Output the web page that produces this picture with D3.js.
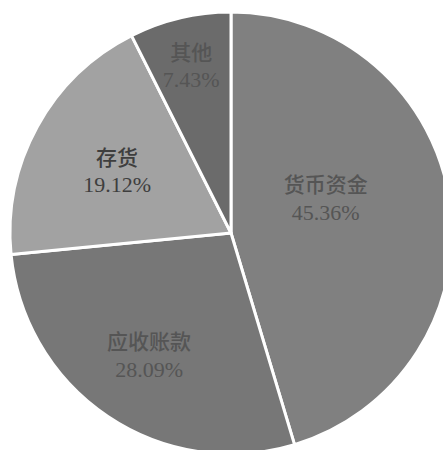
<!DOCTYPE html>
<html>
<head>
<meta charset="utf-8">
<script src="https://cdn.jsdelivr.net/npm/d3@7"></script>
<style>
  html, body { margin: 0; padding: 0; background: #fff; }
  svg { display: block; }
</style>
</head>
<body>
<div id="chart"></div>
<script>
const categories = ['货币资金', '应收账款', '存货', '其他']
const shares = [45.36, 28.09, 19.12, 7.43]
const shareLabels = ['45.36%', '28.09%', '19.12%', '7.43%']

const width = 443
const height = 450
const cx = 231
const cy = 233
const radius = 221

const fills = ['#808080', '#777777', '#a2a2a2', '#6b6b6b']
// excel "best fit" label placement: radius and angle nudge per slice
const labelRadius = [101, 147, 130, 172]
const labelShift = [-12, 0, 0, 0]

const svg = d3.select('#chart')
  .append('svg')
  .attr('width', width)
  .attr('height', height)

const g = svg.append('g')
  .attr('transform', `translate(${cx},${cy})`)

const pie = d3.pie().sort(null).value(d => d)
const arcs = pie(shares)

const arc = d3.arc().innerRadius(0).outerRadius(radius)

g.selectAll('path.slice')
  .data(arcs)
  .join('path')
  .attr('class', 'slice')
  .attr('d', arc)
  .attr('fill', (d, i) => fills[i])
  .attr('stroke', '#fff')
  .attr('stroke-width', 3)
  .attr('stroke-linejoin', 'round')

const labels = g.selectAll('g.label')
  .data(arcs)
  .join('g')
  .attr('class', 'label')
  .attr('transform', (d, i) => {
    const a = (d.startAngle + d.endAngle) / 2 + labelShift[i] * Math.PI / 180
    const r = labelRadius[i]
    return `translate(${Math.sin(a) * r},${-Math.cos(a) * r})`
  })

labels.append('text')
  .attr('text-anchor', 'middle')
  .attr('y', -13)
  .attr('dy', '0.35em')
  .style('font-family', '"Noto Sans CJK SC", sans-serif')
  .style('font-size', '21px')
  .style('font-weight', 500)
  .attr('fill', (d, i) => i === 2 ? '#3e3e3e' : '#555555')
  .text((d, i) => categories[i])

labels.append('text')
  .attr('text-anchor', 'middle')
  .attr('y', 14)
  .attr('dy', '0.35em')
  .style('font-family', '"Liberation Serif", serif')
  .style('font-size', '22px')
  .attr('fill', (d, i) => i === 2 ? '#3e3e3e' : '#555555')
  .text((d, i) => shareLabels[i])
</script>
</body>
</html>
